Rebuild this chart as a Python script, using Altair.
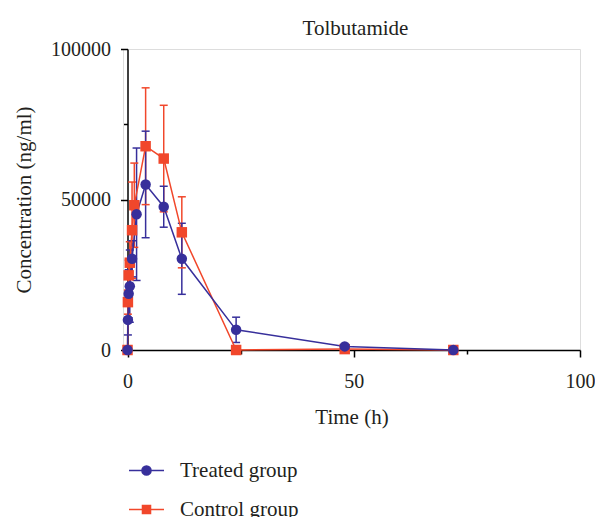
import altair as alt
import pandas as pd

groups = ["Treated group", "Control group"]
colors = ["#372f9b", "#f1472b"]

treated_time = [0, 0.083, 0.25, 0.5, 1, 2, 4, 8, 12, 24, 48, 72]
treated_mean = [0, 10000, 18700, 21200, 30300, 45100, 55000, 47600, 30300, 6700, 1200, 0]
treated_sd = [0, 5000, 8000, 12000, 6000, 22000, 17700, 6800, 11800, 4200, 300, 0]

control_time = [0, 0.083, 0.25, 0.5, 1, 1.5, 4, 8, 12, 24, 48, 72]
control_mean = [0, 15900, 24800, 29000, 39800, 48100, 67700, 63600, 39100, 0, 300, 0]
control_sd = [0, 4000, 5000, 7000, 16000, 14000, 19400, 17700, 11800, 0, 200, 0]

rows = []
for t, m, s in zip(control_time, control_mean, control_sd):
    rows.append({"group": groups[1], "time": t, "mean": m, "lo": m - s, "hi": m + s})
for t, m, s in zip(treated_time, treated_mean, treated_sd):
    rows.append({"group": groups[0], "time": t, "mean": m, "lo": m - s, "hi": m + s})
df = pd.DataFrame(rows)
df["ord"] = df["group"].map({groups[1]: 0, groups[0]: 1})

FONT = "Liberation Serif"
TXT = "#231f20"

circle_path = "M-1,0L-0.26,0M0.26,0L1,0M0.26,0A0.26,0.26,0,1,1,-0.26,0A0.26,0.26,0,1,1,0.26,0Z"
square_path = "M-1,0L-0.23,0M0.23,0L1,0M-0.23,-0.23L0.23,-0.23L0.23,0.23L-0.23,0.23Z"


def make_legend(path, col, ly):
    return alt.Legend(
        title=None,
        orient="none",
        legendX=5,
        legendY=ly,
        direction="vertical",
        padding=0,
        labelFont=FONT,
        labelFontSize=21,
        labelColor=TXT,
        labelOffset=15,
        symbolType=path,
        symbolSize=1225,
        symbolStrokeWidth=1.5,
        symbolFillColor=col,
        symbolStrokeColor=col,
        symbolOpacity=1,
    )


color_nl = alt.Color("group:N", scale=alt.Scale(domain=groups, range=colors), legend=None)

x = alt.X(
    "time:Q",
    scale=alt.Scale(domain=[-1, 100], nice=False),
    axis=alt.Axis(
        title="Time (h)",
        values=[0, 25, 50, 75, 100],
        labelExpr="datum.value % 50 == 0 ? datum.label : ''",
        tickSize={"condition": {"test": "datum.value % 50 != 0", "value": 4}, "value": 7},
        labelFlush=False,
        grid=False,
        domainColor="#000000",
        tickColor="#000000",
        domainWidth=1.5,
        tickWidth=1.5,
        labelFont=FONT,
        labelFontSize=20,
        labelColor=TXT,
        labelPadding=14,
        titleFont=FONT,
        titleFontSize=21,
        titleFontWeight="normal",
        titleColor=TXT,
        titlePadding=15,
    ),
)
y = alt.Y(
    "mean:Q",
    scale=alt.Scale(domain=[0, 100000], nice=False),
    axis=alt.Axis(
        title="Concentration (ng/ml)",
        values=[0, 25000, 50000, 75000, 100000],
        format="d",
        labelExpr="datum.value % 50000 == 0 ? datum.label : ''",
        tickSize={"condition": {"test": "datum.value % 50000 != 0", "value": 4}, "value": 7},
        labelFlush=False,
        offset=-4.5,
        grid=False,
        domainColor="#000000",
        tickColor="#000000",
        domainWidth=1.5,
        tickWidth=1.5,
        labelFont=FONT,
        labelFontSize=20,
        labelColor=TXT,
        labelPadding=10,
        titleFont=FONT,
        titleFontSize=21,
        titleFontWeight="normal",
        titleColor=TXT,
        titlePadding=16,
    ),
)

base = alt.Chart(df)

bars = base.mark_rule(strokeWidth=1.5).encode(x=x, y=alt.Y("lo:Q"), y2="hi:Q", color=color_nl)
caps_hi = base.mark_tick(orient="horizontal", size=8, thickness=1.5, opacity=1).encode(x=x, y=alt.Y("hi:Q"), color=color_nl)
caps_lo = base.mark_tick(orient="horizontal", size=8, thickness=1.5, opacity=1).encode(x=x, y=alt.Y("lo:Q"), color=color_nl)
lines = base.mark_line(strokeWidth=1.5).encode(x=x, y=y, color=color_nl, order="time:Q", detail="group:N")
points = base.mark_point(filled=True, size=110, opacity=1).encode(
    x=x,
    y=y,
    color=color_nl,
    shape=alt.Shape("group:N", scale=alt.Scale(domain=groups, range=["circle", "square"]), legend=None),
    order="ord:Q",
)

leg_layers = []
for g, col, path, ly in [(groups[0], colors[0], circle_path, 403), (groups[1], colors[1], square_path, 442)]:
    leg_layers.append(
        base.transform_filter(alt.datum.group == g)
        .transform_filter("false")
        .mark_point(filled=True, opacity=1)
        .encode(
            x=x,
            y=y,
            fill=alt.Fill("group:N", scale=alt.Scale(domain=[g], range=[col]), legend=make_legend(path, col, ly)),
        )
    )

chart = (
    alt.layer(bars, caps_hi, caps_lo, lines, points, *leg_layers)
    .resolve_scale(fill="independent")
    .resolve_legend(fill="independent")
    .properties(
        width=457,
        height=301,
        padding={"left": 13, "top": 18, "right": 0, "bottom": 5},
        title=alt.TitleParams("Tolbutamide", font=FONT, fontSize=21, fontWeight="normal", color=TXT, anchor="middle", offset=0, dx=4),
    )
    .configure_view(stroke=None)
    .configure(background="white")
)

chart.save("out.html", embed_options={"renderer": "svg", "actions": False})
